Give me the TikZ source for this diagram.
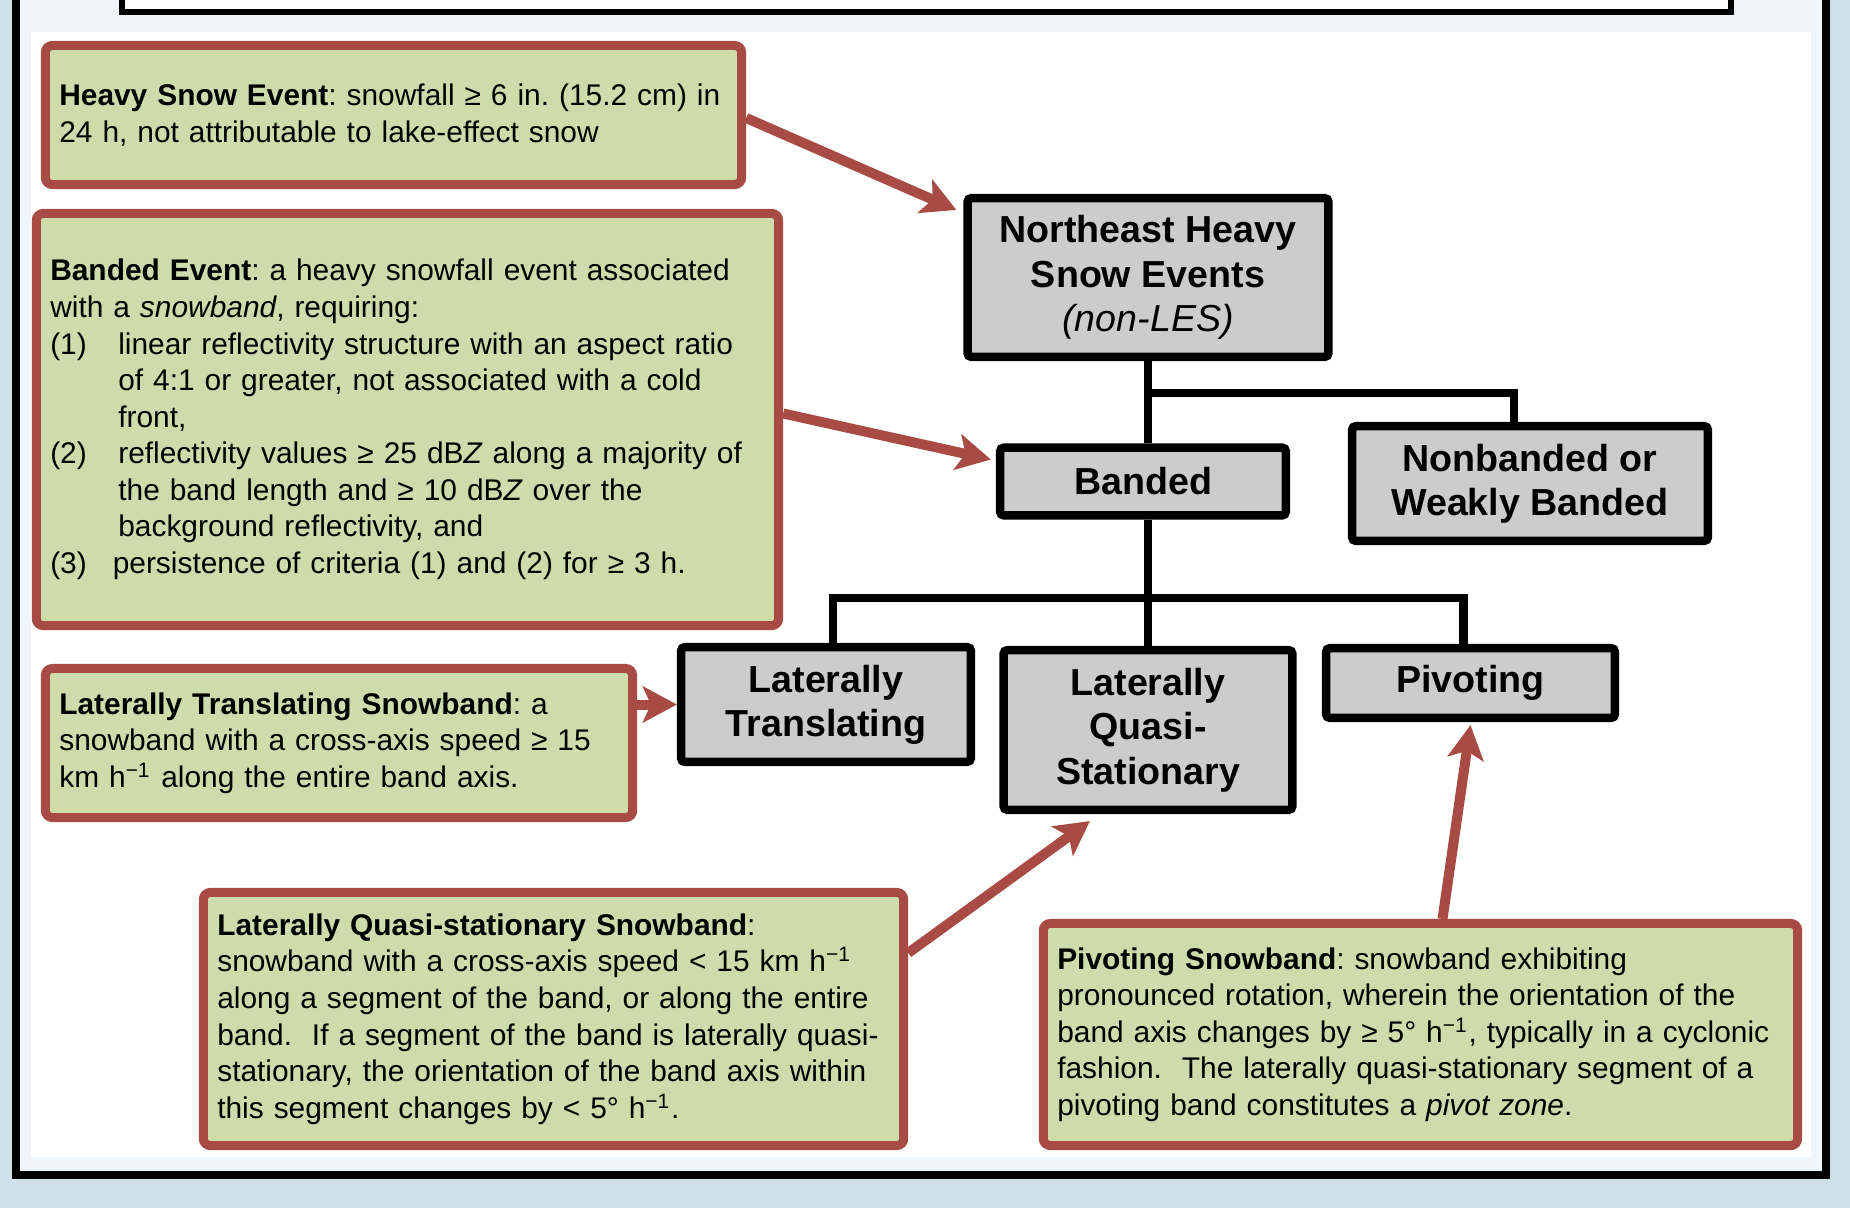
\documentclass[tikz,border=0pt]{standalone}
\usepackage{fontspec}
\setmainfont{Liberation Sans}
\usetikzlibrary{arrows.meta,positioning}
\definecolor{bgblue}{HTML}{CFE1E8}
\definecolor{panel}{HTML}{EFF5F8}
\definecolor{defgreen}{HTML}{CDDCAA}
\definecolor{defred}{HTML}{A84B45}
\definecolor{boxgray}{HTML}{CCCCCC}
\newcommand{\itm}[1]{\makebox[0.68cm][l]{#1}}
\newcommand{\ind}{\hspace*{0.68cm}}
\frenchspacing

\begin{document}
\begin{tikzpicture}[
    x=0.01cm, y=-0.01cm,
    defbox/.style={
        rectangle, draw=defred, fill=defgreen, text=black,
        rounded corners=2pt, line width=0.09cm,
        inner xsep=0.14cm, inner ysep=0.08cm, align=left,
        font=\fontsize{8.5pt}{10.4pt}\selectfont
    },
    catbox/.style={
        rectangle, draw=black, fill=boxgray, text=black,
        rounded corners=1pt, line width=0.085cm, inner sep=0pt,
        align=center, font=\fontsize{10.7pt}{12.6pt}\selectfont\bfseries
    },
    tree/.style={draw=black, line width=0.08cm},
    defarrow/.style={-{Stealth[length=0.34cm,width=0.36cm,inset=0.08cm]},
        draw=defred, fill=defred, line width=0.1cm},
]
\useasboundingbox (0,0) rectangle (1850,1208);
\clip (0,0) rectangle (1850,1208);

% background and frame
\fill[bgblue] (0,0) rectangle (1850,1208);
\fill[panel] (16,-20) rectangle (1826,1175);
\draw[line width=0.08cm] (16,-20) -- (16,1175) -- (1826,1175) -- (1826,-20);
\fill[white] (31,32) rectangle (1811,1157);
\draw[line width=0.06cm, fill=white] (122,-20) -- (122,12) -- (1731,12) -- (1731,-20);

% Categories
\node[catbox, minimum width=3.605cm, minimum height=1.585cm] (nhse) at (1148,277.5)
    {Northeast Heavy\\Snow Events\\\textit{\mdseries (non-LES)}};
\node[catbox, minimum width=2.855cm, minimum height=0.675cm] (banded) at (1143,481.5) {Banded};
\node[catbox, minimum width=3.555cm, minimum height=1.145cm] (nonb) at (1530,483.5)
    {Nonbanded or\\Weakly Banded};
\node[catbox, minimum width=2.895cm, minimum height=1.145cm] (ltbox) at (826,704.5)
    {Laterally\\Translating};
\node[catbox, minimum width=2.885cm, minimum height=1.595cm] (lqsbox) at (1148,730)
    {Laterally\\Quasi-\\Stationary};
\node[catbox, minimum width=2.885cm, minimum height=0.695cm] (pivbox) at (1470.5,683) {Pivoting};

% Definitions
\node[defbox, text width=6.68cm, minimum height=1.39cm] (heavy) at (393.5,115)
    {\textbf{Heavy Snow Event}: snowfall ≥ 6 in. (15.2 cm) in\\
     24 h, not attributable to lake-effect snow};
\node[defbox, text width=7.14cm, minimum height=4.12cm] (bandev) at (407.5,419.5)
    {\textbf{Banded Event}: a heavy snowfall event associated\\
     with a \textit{snowband}, requiring:\\
     \itm{(1)}linear reflectivity structure with an aspect ratio\\
     \ind of 4:1 or greater, not associated with a cold\\
     \ind front,\\
     \itm{(2)}reflectivity values ≥ 25 dB\textit{Z} along a majority of\\
     \ind the band length and ≥ 10 dB\textit{Z} over the\\
     \ind background reflectivity, and\\
     \makebox[0.625cm][l]{(3)}persistence of criteria (1) and (2) for ≥ 3 h.};
\node[defbox, text width=5.59cm, minimum height=1.49cm] (ltdef) at (339,743)
    {\textbf{Laterally Translating Snowband}: a\\
     snowband with a cross-axis speed ≥ 15\\
     km h\textsuperscript{−1} along the entire band axis.};
\node[defbox, text width=6.72cm, minimum height=2.53cm] (lqsdef) at (553.5,1019)
    {\textbf{Laterally Quasi-stationary Snowband}:\\
     snowband with a cross-axis speed < 15 km h\textsuperscript{−1}\\
     along a segment of the band, or along the entire\\
     band.\ \ If a segment of the band is laterally quasi-\\
     stationary, the orientation of the band axis within\\
     this segment changes by < 5° h\textsuperscript{−1}.};
\node[defbox, text width=7.26cm, minimum height=2.22cm] (pivdef) at (1420.5,1034.5)
    {\textbf{Pivoting Snowband}: snowband exhibiting\\
     pronounced rotation, wherein the orientation of the\\
     band axis changes by ≥ 5° h\textsuperscript{−1}, typically in a cyclonic\\
     fashion.\ \ The laterally quasi-stationary segment of a\\
     pivoting band constitutes a \textit{pivot zone}.};

% Tree
\draw[tree] (nhse.south) -- (banded.north -| nhse.south);
\draw[tree] (nhse.south) -- ++(0,32) -| ([xshift=-0.16cm]nonb.north);
\draw[tree] (banded.south -| nhse.south) -- (lqsbox.north);
\draw[tree] (banded.south -| nhse.south) -- ++(0,78) -| ([xshift=0.07cm]ltbox.north);
\draw[tree] (banded.south -| nhse.south) -- ++(0,78) -| ([xshift=-0.07cm]pivbox.north);

% Arrows
\draw[defarrow] ([yshift=-0.03cm]heavy.east) -- ([shift={(-0.07cm,-0.16cm)}]nhse.north west);
\draw[defarrow] ([yshift=0.06cm]bandev.east) -- ([shift={(-0.05cm,0.22cm)}]banded.west);
\draw[defarrow] (ltdef.east |- ltbox.west) -- (ltbox.west);
\draw[defarrow] ([yshift=-0.65cm]lqsdef.north east) -- ([shift={(-0.58cm,-0.07cm)}]lqsbox.south);
\draw[defarrow] ([xshift=0.22cm]pivdef.north) -- ([yshift=-0.03cm]pivbox.south);

\end{tikzpicture}
\end{document}
